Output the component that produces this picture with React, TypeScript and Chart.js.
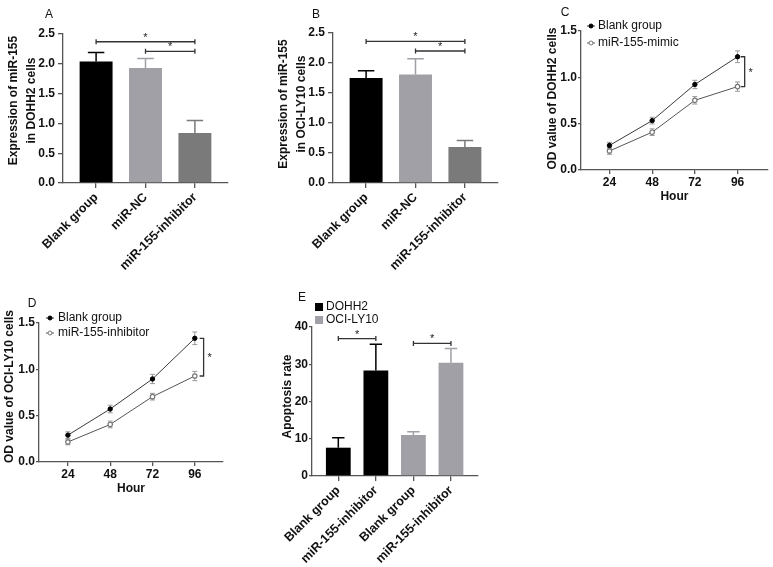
import React, { useEffect, useRef } from 'react';
import { Chart, registerables } from 'chart.js';
Chart.register(...registerables);

const FONT = "'Liberation Sans', Arial, Helvetica, sans-serif";

// ---------- Panel A ----------
const groupsAB = ['Blank group', 'miR-NC', 'miR-155-inhibitor'];
const barColorsAB = ['#000000', '#a0a0a6', '#7a7a7a'];
const meanA = [2.04, 1.93, 0.84];
const errA = [0.15, 0.16, 0.21];
const sigFromA = [0, 1];
const sigToA = [2, 2];
const sigLevelA = [2.37, 2.21];
const yTitleA = ['Expression of miR-155', 'in DOHH2 cells'];

// ---------- Panel B ----------
const meanB = [1.75, 1.81, 0.6];
const errB = [0.12, 0.26, 0.11];
const sigFromB = [0, 1];
const sigToB = [2, 2];
const sigLevelB = [2.36, 2.2];
const yTitleB = ['Expression of miR-155', 'in OCI-LY10 cells'];

// ---------- Panel C ----------
const hours = [24, 48, 72, 96];
const blankC = [0.265, 0.533, 0.923, 1.222];
const blankErrC = [0.034, 0.036, 0.045, 0.063];
const mimicC = [0.205, 0.408, 0.752, 0.9];
const mimicErrC = [0.036, 0.036, 0.04, 0.05];
const seriesC = ['Blank group', 'miR-155-mimic'];

// ---------- Panel D ----------
const blankD = [0.29, 0.572, 0.896, 1.335];
const blankErrD = [0.036, 0.041, 0.05, 0.068];
const inhibD = [0.216, 0.405, 0.705, 0.928];
const inhibErrD = [0.03, 0.036, 0.036, 0.05];
const seriesD = ['Blank group', 'miR-155-inhibitor'];

// ---------- Panel E ----------
const groupsE = ['Blank group', 'miR-155-inhibitor', 'Blank group', 'miR-155-inhibitor'];
const seriesE = ['DOHH2', 'OCI-LY10'];
const dohh2E = [7.6, 28.3];
const dohh2ErrE = [2.7, 7.1];
const ociE = [11.0, 30.4];
const ociErrE = [0.9, 3.8];
const sigFromE = [0, 2];
const sigToE = [1, 3];
const sigLevelE = [36.9, 35.6];

type Box = { x: number; y: number; w: number; h: number };
type Area = { l: number; t: number; r: number; b: number };

type Deco = {
  letter: string;
  letterDx: number;
  letterDy: number;
  yTitle: string[];
  yTitleDx: number;
  yTitleGap: number;
  yTitleDy: number;
  xTitle?: string;
  hBrackets?: { from: number[]; to: number[]; level: number[] };
  vBracket?: { x: number; y1: number; y2: number };
  barErrors?: number[][];
  lineErrors?: number[][];
  lineLegend?: { rows: number[]; markerDx: number; textDx: number };
  barLegend?: { rows: number[]; colors: string[] };
};

function star(ctx: CanvasRenderingContext2D, x: number, y: number) {
  ctx.save();
  ctx.fillStyle = '#222';
  ctx.font = `11px ${FONT}`;
  ctx.textAlign = 'center';
  ctx.textBaseline = 'alphabetic';
  ctx.fillText('*', x, y);
  ctx.restore();
}

function makeDeco(cfg: Deco) {
  return {
    id: 'deco',
    beforeDatasetsDraw(chart: any) {
      if (!cfg.lineErrors) return;
      const ctx = chart.ctx;
      const ys = chart.scales.y;
      ctx.save();
      ctx.strokeStyle = '#9a9a9a';
      ctx.lineWidth = 1;
      cfg.lineErrors.forEach((errs, i) => {
        const meta = chart.getDatasetMeta(i);
        const ds = chart.data.datasets[i];
        meta.data.forEach((el: any, j: number) => {
          const v = ds.data[j].y;
          const t = ys.getPixelForValue(v + errs[j]);
          const b = ys.getPixelForValue(v - errs[j]);
          ctx.beginPath();
          ctx.moveTo(el.x, t);
          ctx.lineTo(el.x, b);
          ctx.moveTo(el.x - 2.5, t);
          ctx.lineTo(el.x + 2.5, t);
          ctx.moveTo(el.x - 2.5, b);
          ctx.lineTo(el.x + 2.5, b);
          ctx.stroke();
        });
      });
      ctx.restore();
    },
    afterDatasetsDraw(chart: any) {
      if (!cfg.barErrors) return;
      const ctx = chart.ctx;
      const ys = chart.scales.y;
      ctx.save();
      ctx.lineWidth = 1.5;
      cfg.barErrors.forEach((errs, i) => {
        const meta = chart.getDatasetMeta(i);
        const ds = chart.data.datasets[i];
        meta.data.forEach((el: any, j: number) => {
          const v = ds.data[j].y;
          const t = ys.getPixelForValue(v + errs[j]);
          const col = Array.isArray(ds.backgroundColor) ? ds.backgroundColor[j] : ds.backgroundColor;
          ctx.strokeStyle = col;
          const hw = el.width / 4;
          ctx.beginPath();
          ctx.moveTo(el.x, el.y);
          ctx.lineTo(el.x, t);
          ctx.moveTo(el.x - hw, t);
          ctx.lineTo(el.x + hw, t);
          ctx.stroke();
        });
      });
      ctx.restore();
    },
    afterDraw(chart: any) {
      const ctx: CanvasRenderingContext2D = chart.ctx;
      const a = chart.chartArea;
      const xs = chart.scales.x;
      const ys = chart.scales.y;
      ctx.save();
      ctx.fillStyle = '#111';
      ctx.font = `12px ${FONT}`;
      ctx.textAlign = 'center';
      ctx.textBaseline = 'middle';
      ctx.fillText(cfg.letter, a.left + cfg.letterDx, a.top + cfg.letterDy);
      ctx.font = `bold 12px ${FONT}`;
      const cy = (a.top + a.bottom) / 2 + cfg.yTitleDy;
      cfg.yTitle.forEach((line, k) => {
        ctx.save();
        ctx.translate(a.left + cfg.yTitleDx + k * cfg.yTitleGap, cy);
        ctx.rotate(-Math.PI / 2);
        ctx.fillText(line, 0, 0);
        ctx.restore();
      });
      if (cfg.xTitle) {
        ctx.fillText(cfg.xTitle, (a.left + a.right) / 2, a.bottom + 27);
      }
      if (cfg.hBrackets) {
        const hb = cfg.hBrackets;
        ctx.strokeStyle = '#333';
        ctx.lineWidth = 1.3;
        hb.level.forEach((lv, k) => {
          const x1 = xs.getPixelForValue(hb.from[k]);
          const x2 = xs.getPixelForValue(hb.to[k]);
          const y = ys.getPixelForValue(lv);
          ctx.beginPath();
          ctx.moveTo(x1, y);
          ctx.lineTo(x2, y);
          ctx.moveTo(x1, y - 2.5);
          ctx.lineTo(x1, y + 2.5);
          ctx.moveTo(x2, y - 2.5);
          ctx.lineTo(x2, y + 2.5);
          ctx.stroke();
          star(ctx, (x1 + x2) / 2, y - 1);
        });
      }
      if (cfg.vBracket) {
        const vb = cfg.vBracket;
        const x = xs.getPixelForValue(vb.x);
        const y1 = ys.getPixelForValue(vb.y1);
        const y2 = ys.getPixelForValue(vb.y2);
        ctx.strokeStyle = '#333';
        ctx.lineWidth = 1.3;
        ctx.beginPath();
        ctx.moveTo(x - 4, y1);
        ctx.lineTo(x, y1);
        ctx.lineTo(x, y2);
        ctx.lineTo(x - 4, y2);
        ctx.stroke();
        star(ctx, x + 6, (y1 + y2) / 2 + 4);
      }
      if (cfg.lineLegend) {
        const lg = cfg.lineLegend;
        chart.data.datasets.forEach((ds: any, i: number) => {
          const y = a.top + lg.rows[i];
          const mx = a.left + lg.markerDx;
          ctx.strokeStyle = ds.borderColor;
          ctx.lineWidth = 1;
          ctx.beginPath();
          ctx.moveTo(mx - 4, y);
          ctx.lineTo(mx + 4, y);
          ctx.stroke();
          ctx.beginPath();
          ctx.arc(mx, y, 2, 0, Math.PI * 2);
          ctx.fillStyle = ds.pointBackgroundColor;
          ctx.fill();
          ctx.strokeStyle = ds.pointBorderColor;
          ctx.lineWidth = 1;
          ctx.stroke();
          ctx.fillStyle = '#111';
          ctx.font = `12px ${FONT}`;
          ctx.textAlign = 'left';
          ctx.textBaseline = 'middle';
          ctx.fillText(ds.label, a.left + lg.textDx, y);
        });
      }
      if (cfg.barLegend) {
        const lg = cfg.barLegend;
        chart.data.datasets.forEach((ds: any, i: number) => {
          const y = a.top + lg.rows[i];
          ctx.fillStyle = lg.colors[i];
          ctx.fillRect(a.left + 3, y - 4, 8, 8);
          ctx.fillStyle = '#111';
          ctx.font = `12px ${FONT}`;
          ctx.textAlign = 'left';
          ctx.textBaseline = 'middle';
          ctx.fillText(ds.label, a.left + 14, y);
        });
      }
      ctx.restore();
    },
  };
}

const tickFont = { family: FONT, size: 12, weight: 'bold' as const };

function frame(box: Box, area: Area) {
  return {
    yw: area.l - box.x,
    xh: box.y + box.h - area.b,
    top: area.t - box.y,
    right: box.x + box.w - area.r,
  };
}

function yAxis(f: any, min: number, max: number, step: number, dec: number, tickLen: number, pad: number) {
  return {
    type: 'linear',
    min,
    max,
    ticks: {
      stepSize: step,
      callback: (v: number) => Number(v).toFixed(dec),
      font: tickFont,
      color: '#111',
      padding: pad,
    },
    grid: { drawOnChartArea: false, drawTicks: true, tickLength: tickLen, color: '#555', lineWidth: 1.3 },
    border: { display: true, color: '#555', width: 1.3 },
    afterFit: (s: any) => {
      s.width = f.yw;
    },
  };
}

function xCatAxis(f: any, labels: string[], min: number, max: number, rot: number) {
  return {
    type: 'linear',
    min,
    max,
    offset: false,
    afterBuildTicks: (s: any) => {
      s.ticks = labels.map((_, i) => ({ value: i }));
    },
    ticks: {
      autoSkip: false,
      minRotation: rot,
      maxRotation: rot,
      callback: (v: number) => labels[v] ?? '',
      font: { family: FONT, size: 12.5, weight: 'bold' as const },
      color: '#111',
      padding: 2,
    },
    grid: { offset: false, drawOnChartArea: false, drawTicks: true, tickLength: 5, color: '#555', lineWidth: 1.3 },
    border: { display: true, color: '#555', width: 1.3 },
    afterFit: (s: any) => {
      s.height = f.xh;
    },
  };
}

function xHourAxis(f: any, min: number, max: number) {
  return {
    type: 'linear',
    min,
    max,
    offset: false,
    afterBuildTicks: (s: any) => {
      s.ticks = hours.map((h) => ({ value: h }));
    },
    ticks: {
      autoSkip: false,
      maxRotation: 0,
      callback: (v: number) => String(v),
      font: tickFont,
      color: '#111',
      padding: 1,
    },
    grid: { drawOnChartArea: false, drawTicks: true, tickLength: 4, color: '#555', lineWidth: 1.3 },
    border: { display: true, color: '#555', width: 1.3 },
    afterFit: (s: any) => {
      s.height = f.xh;
    },
  };
}

function baseOptions(f: any, scales: any) {
  return {
    responsive: false,
    animation: false,
    devicePixelRatio: 1,
    layout: { padding: { top: f.top, right: f.right, left: 0, bottom: 0 } },
    plugins: { legend: { display: false }, tooltip: { enabled: false } },
    scales,
  };
}

function barPanel(box: Box, area: Area, means: number[], errs: number[], sFrom: number[], sTo: number[], sLev: number[], yTitle: string[], letter: string, letterDx: number, letterDy: number, yDy: number) {
  const f = frame(box, area);
  return {
    type: 'bar',
    data: {
      datasets: [
        {
          label: letter,
          data: groupsAB.map((_, i) => ({ x: i, y: means[i] })),
          backgroundColor: barColorsAB,
          borderWidth: 0,
          categoryPercentage: 1,
          barPercentage: 0.667,
        },
      ],
    },
    options: baseOptions(f, {
      x: xCatAxis(f, groupsAB, -0.67, 2.67, 45),
      y: yAxis(f, 0, 2.5, 0.5, 1, 5, 3),
    }),
    plugins: [
      makeDeco({
        letter,
        letterDx,
        letterDy,
        yTitle,
        yTitleDx: -49,
        yTitleGap: 17.5,
        yTitleDy: yDy,
        hBrackets: { from: sFrom, to: sTo, level: sLev },
        barErrors: [errs],
      }),
    ],
  };
}

function linePanel(box: Box, area: Area, names: string[], a: number[], aErr: number[], b: number[], bErr: number[], letter: string, letterDx: number, letterDy: number, yDx: number, yDy: number, xMin: number, xMax: number, vx: number, rows: number[], markerDx: number, textDx: number) {
  const f = frame(box, area);
  return {
    type: 'line',
    data: {
      datasets: [
        {
          label: names[0],
          data: hours.map((h, i) => ({ x: h, y: a[i] })),
          borderColor: '#3a3a3a',
          borderWidth: 1,
          pointRadius: 2.2,
          pointBackgroundColor: '#000000',
          pointBorderColor: '#000000',
          pointBorderWidth: 1,
          tension: 0,
        },
        {
          label: names[1],
          data: hours.map((h, i) => ({ x: h, y: b[i] })),
          borderColor: '#555555',
          borderWidth: 1,
          pointRadius: 2.2,
          pointBackgroundColor: '#ffffff',
          pointBorderColor: '#777777',
          pointBorderWidth: 1.2,
          tension: 0,
        },
      ],
    },
    options: baseOptions(f, {
      x: xHourAxis(f, xMin, xMax),
      y: yAxis(f, 0, 1.5, 0.5, 1, 3, 1),
    }),
    plugins: [
      makeDeco({
        letter,
        letterDx,
        letterDy,
        yTitle: ['OD value of ' + (letter === 'C' ? 'DOHH2' : 'OCI-LY10') + ' cells'],
        yTitleDx: yDx,
        yTitleGap: 0,
        yTitleDy: yDy,
        xTitle: 'Hour',
        vBracket: { x: vx, y1: a[a.length - 1], y2: b[b.length - 1] },
        lineErrors: [aErr, bErr],
        lineLegend: { rows, markerDx, textDx },
      }),
    ],
  };
}

function panelE(box: Box, area: Area) {
  const f = frame(box, area);
  const colors = ['#000000', '#a0a0a6'];
  return {
    type: 'bar',
    data: {
      datasets: [
        {
          label: seriesE[0],
          data: dohh2E.map((v, i) => ({ x: i, y: v })),
          backgroundColor: colors[0],
          borderWidth: 0,
          grouped: false,
          categoryPercentage: 1,
          barPercentage: 0.66,
        },
        {
          label: seriesE[1],
          data: ociE.map((v, i) => ({ x: i + 2, y: v })),
          backgroundColor: colors[1],
          borderWidth: 0,
          grouped: false,
          categoryPercentage: 1,
          barPercentage: 0.66,
        },
      ],
    },
    options: baseOptions(f, {
      x: xCatAxis(f, groupsE, -0.7, 3.72, 45),
      y: yAxis(f, 0, 40, 10, 0, 3, 1),
    }),
    plugins: [
      makeDeco({
        letter: 'E',
        letterDx: -10,
        letterDy: -29,
        yTitle: ['Apoptosis rate'],
        yTitleDx: -24,
        yTitleGap: 0,
        yTitleDy: -5,
        hBrackets: { from: sigFromE, to: sigToE, level: sigLevelE },
        barErrors: [dohh2ErrE, ociErrE],
        barLegend: { rows: [-20, -7], colors },
      }),
    ],
  };
}

function Panel({ box, config }: { box: Box; config: () => any }) {
  const ref = useRef<HTMLCanvasElement>(null);
  useEffect(() => {
    const chart = new Chart(ref.current as HTMLCanvasElement, config());
    return () => chart.destroy();
  }, []);
  return (
    <div style={{ position: 'absolute', left: box.x, top: box.y, width: box.w, height: box.h }}>
      <canvas ref={ref} width={box.w} height={box.h} style={{ width: box.w, height: box.h, display: 'block' }} />
    </div>
  );
}

const boxA: Box = { x: 0, y: 0, w: 250, h: 285 };
const areaA: Area = { l: 63, t: 34, r: 228, b: 183 };
const boxB: Box = { x: 250, y: 0, w: 270, h: 285 };
const areaB: Area = { l: 333, t: 33, r: 498, b: 183 };
const boxC: Box = { x: 520, y: 0, w: 253, h: 215 };
const areaC: Area = { l: 581, t: 31, r: 768, b: 170 };
const boxD: Box = { x: 0, y: 285, w: 280, h: 215 };
const areaD: Area = { l: 39, t: 323, r: 223, b: 462 };
const boxE: Box = { x: 280, y: 285, w: 240, h: 282 };
const areaE: Area = { l: 310, t: 327, r: 478, b: 476 };

export default function App() {
  return (
    <div style={{ position: 'absolute', left: 0, top: 0, width: 773, height: 567, background: '#ffffff', overflow: 'hidden' }}>
      <Panel box={boxA} config={() => barPanel(boxA, areaA, meanA, errA, sigFromA, sigToA, sigLevelA, yTitleA, 'A', -14, -19, -8)} />
      <Panel box={boxB} config={() => barPanel(boxB, areaB, meanB, errB, sigFromB, sigToB, sigLevelB, yTitleB, 'B', -17, -18, -4)} />
      <Panel box={boxC} config={() => linePanel(boxC, areaC, seriesC, blankC, blankErrC, mimicC, mimicErrC, 'C', -16, -18, -28, -2, 8, 113, 100, [-5, 12], 10, 17)} />
      <Panel box={boxD} config={() => linePanel(boxD, areaD, seriesD, blankD, blankErrD, inhibD, inhibErrD, 'D', -7, -19, -29, -6, 7.6, 112, 101, [-5, 10], 11, 19)} />
      <Panel box={boxE} config={() => panelE(boxE, areaE)} />
    </div>
  );
}
